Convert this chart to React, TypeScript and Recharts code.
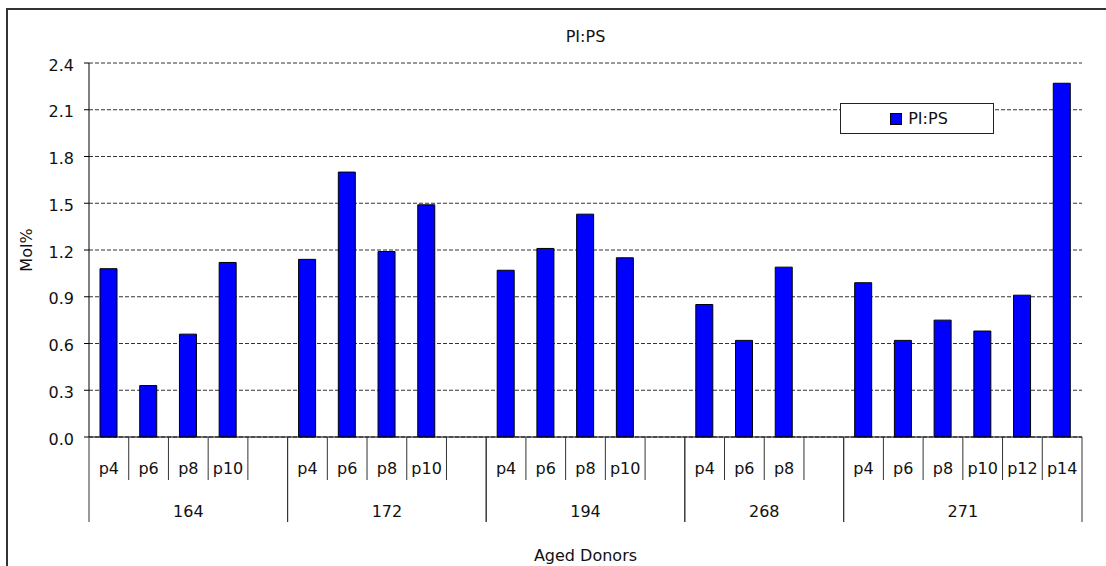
import React from 'react';
import { BarChart, Bar, XAxis, YAxis, CartesianGrid, Legend, Label } from 'recharts';

const donors = ['164', '172', '194', '268', '271'];
const passages164 = ['p4', 'p6', 'p8', 'p10', ''];
const passages172 = ['p4', 'p6', 'p8', 'p10', ''];
const passages194 = ['p4', 'p6', 'p8', 'p10', ''];
const passages268 = ['p4', 'p6', 'p8', ''];
const passages271 = ['p4', 'p6', 'p8', 'p10', 'p12', 'p14'];

const values164 = [1.08, 0.33, 0.66, 1.12, null];
const values172 = [1.14, 1.70, 1.19, 1.49, null];
const values194 = [1.07, 1.21, 1.43, 1.15, null];
const values268 = [0.85, 0.62, 1.09, null];
const values271 = [0.99, 0.62, 0.75, 0.68, 0.91, 2.27];

const yTicks = [0, 0.3, 0.6, 0.9, 1.2, 1.5, 1.8, 2.1, 2.4];

const seriesName = 'PI:PS';
const chartTitle = 'PI:PS';
const xTitle = 'Aged Donors';
const yTitle = 'Mol%';

const passageLists = [passages164, passages172, passages194, passages268, passages271];
const valueLists = [values164, values172, values194, values268, values271];

type Row = {
  key: string;
  donor: string;
  passage: string;
  value: number | null;
  first: boolean;
  last: boolean;
  size: number;
};

const data: Row[] = [];
donors.forEach((d, gi) => {
  const ps = passageLists[gi];
  const vs = valueLists[gi];
  ps.forEach((p, i) => {
    data.push({
      key: `${d}-${i}`,
      donor: d,
      passage: p,
      value: vs[i],
      first: i === 0,
      last: i === ps.length - 1,
      size: ps.length,
    });
  });
});

const FONT = '"DejaVu Sans", sans-serif';
const TEXT = '#111';

const XTick = (props: any) => {
  const { x, y, payload, index } = props;
  const half = payload && typeof payload.offset === 'number' && payload.offset > 0 ? payload.offset : 19.86;
  const row = data[index] || data.find((r) => r.key === payload.value);
  if (!row) return null;
  return (
    <g>
      <text x={x} y={y + 37} textAnchor="middle" fontSize={16} fontFamily={FONT} fill={TEXT}>
        {row.passage}
      </text>
      <line x1={x + half} x2={x + half} y1={y} y2={y + (row.last ? 85 : 43)} stroke="#333" strokeWidth={1} />
      {row.first && (
        <>
          <line x1={x - half} x2={x - half} y1={y} y2={y + 85} stroke="#333" strokeWidth={1} />
          <text x={x - half + row.size * half} y={y + 80} textAnchor="middle" fontSize={16} fontFamily={FONT} fill={TEXT}>
            {row.donor}
          </text>
        </>
      )}
    </g>
  );
};

const LegendBox = () => (
  <div
    style={{
      width: 152,
      height: 29,
      border: '1px solid #222',
      background: '#fff',
      display: 'flex',
      alignItems: 'center',
      justifyContent: 'center',
      fontFamily: FONT,
      fontSize: 16,
      color: TEXT,
      boxSizing: 'content-box',
    }}
  >
    <span
      style={{
        display: 'inline-block',
        width: 10,
        height: 10,
        background: '#0000ff',
        border: '1px solid #000',
        marginRight: 6,
        marginLeft: 4,
      }}
    />
    <span>{seriesName}</span>
  </div>
);

export default function App() {
  return (
    <div
      style={{
        position: 'absolute',
        left: 0,
        top: 0,
        width: 1106,
        height: 566,
        background: '#fff',
        overflow: 'hidden',
        fontFamily: FONT,
      }}
    >
      <div
        style={{
          position: 'absolute',
          left: 6,
          top: 8,
          width: 1200,
          height: 700,
          borderLeft: '2px solid #333',
          borderTop: '2px solid #333',
        }}
      />
      <div
        style={{
          position: 'absolute',
          left: 0,
          width: 1171,
          top: 27,
          textAlign: 'center',
          fontSize: 16,
          color: TEXT,
          lineHeight: '20px',
        }}
      >
        {chartTitle}
      </div>
      <div style={{ position: 'absolute', left: 0, top: 0 }}>
        <BarChart
          width={1106}
          height={566}
          data={data}
          margin={{ top: 63, right: 24, left: 0, bottom: 0 }}
          barSize={17}
        >
          <CartesianGrid horizontal vertical={false} stroke="#333" strokeDasharray="4 2" />
          <XAxis
            dataKey="key"
            height={129}
            interval={0}
            tickLine={false}
            tickSize={0}
            tickMargin={0}
            axisLine={{ stroke: '#000', strokeWidth: 1 }}
            tick={<XTick />}
          >
            <Label
              content={(p: any) => {
                const vb = p.viewBox || { x: 89, y: 437, width: 993 };
                return (
                  <text x={vb.x + vb.width / 2} y={vb.y + 124} textAnchor="middle" fontSize={16} fontFamily={FONT} fill={TEXT}>
                    {xTitle}
                  </text>
                );
              }}
            />
          </XAxis>
          <YAxis
            width={89}
            domain={[0, 2.4]}
            ticks={yTicks}
            interval={0}
            tickFormatter={(v: number) => v.toFixed(1)}
            tickSize={5}
            tickMargin={10}
            tickLine={{ stroke: '#000' }}
            axisLine={{ stroke: '#000', strokeWidth: 1 }}
            tick={{ fontSize: 16, fontFamily: FONT, fill: TEXT, dy: 2 }}
          >
            <Label
              content={(p: any) => {
                const vb = p.viewBox || { x: 0, y: 63, height: 374 };
                const cx = 32;
                const cy = vb.y + vb.height / 2;
                return (
                  <text x={cx} y={cy} transform={`rotate(-90, ${cx}, ${cy})`} textAnchor="middle" fontSize={16} fontFamily={FONT} fill={TEXT}>
                    {yTitle}
                  </text>
                );
              }}
            />
          </YAxis>
          <YAxis
            yAxisId="right"
            orientation="right"
            width={0}
            domain={[0, 2.4]}
            tick={false}
            tickLine={false}
            axisLine={{ stroke: '#c0c0c0', strokeWidth: 2 }}
          />
          <Legend
            layout="horizontal"
            verticalAlign="middle"
            align="center"
            content={() => <LegendBox />}
            wrapperStyle={{ position: 'absolute', left: 840, top: 103, width: 154, height: 31 }}
          />
          <Bar dataKey="value" name={seriesName} fill="#0000ff" stroke="#000" strokeWidth={1} isAnimationActive={false} />
        </BarChart>
      </div>
    </div>
  );
}
